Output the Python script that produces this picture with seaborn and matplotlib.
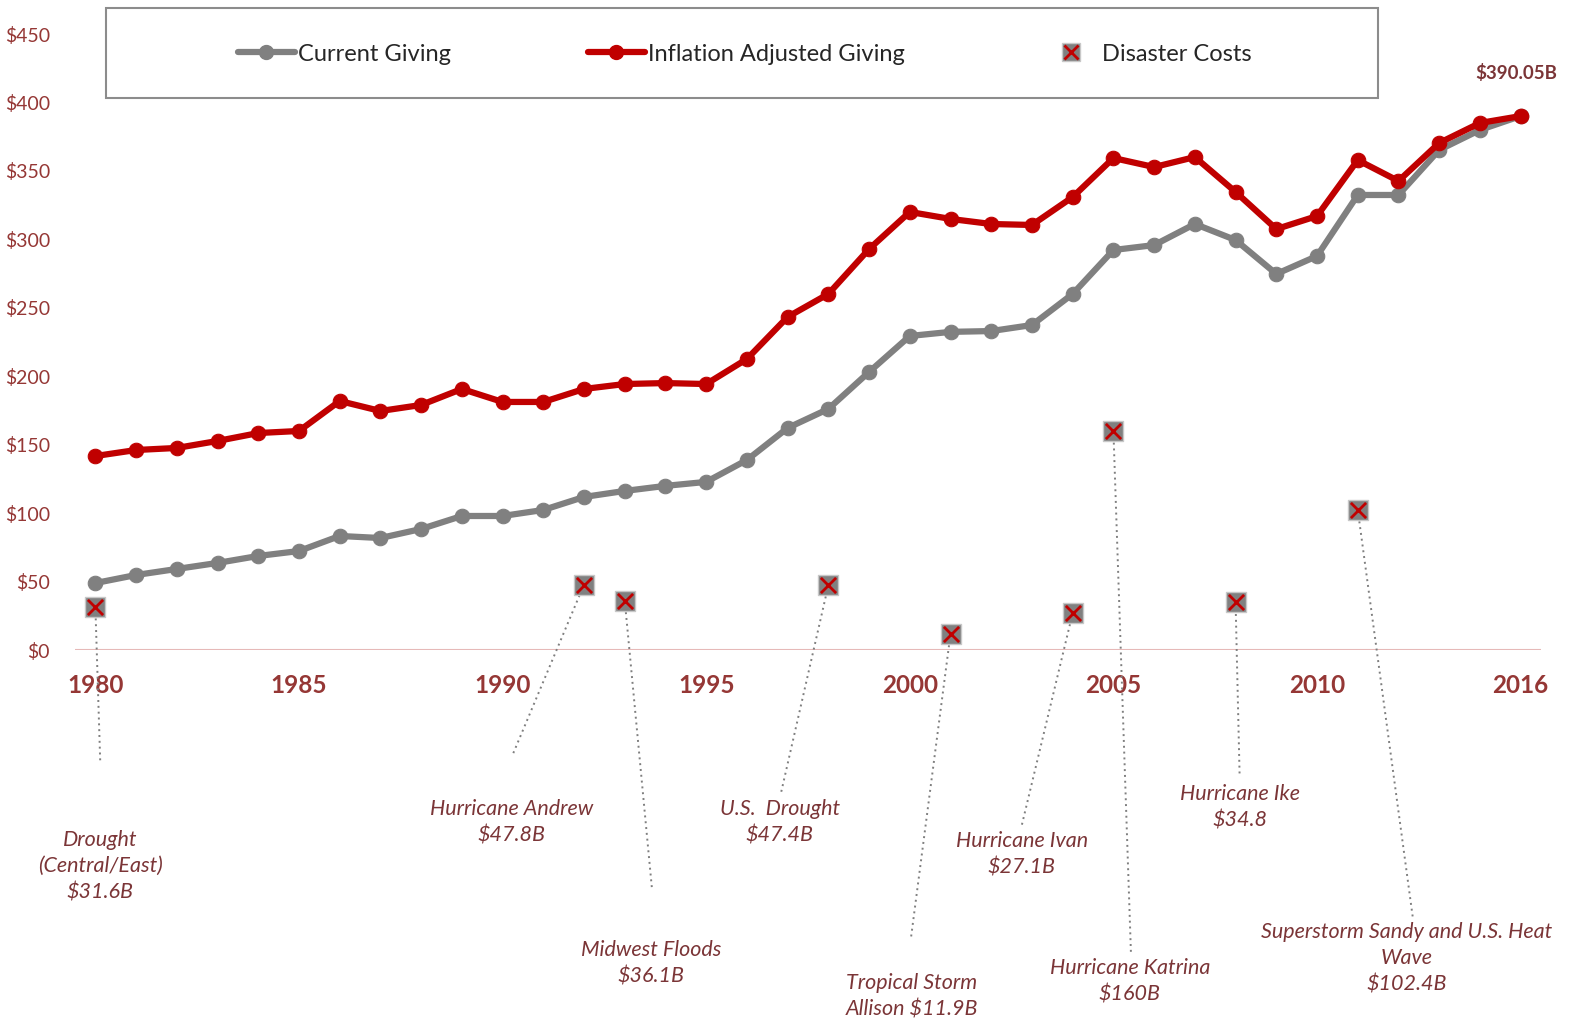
import numpy as np
import matplotlib
matplotlib.use("Agg")
import matplotlib.pyplot as plt
from matplotlib.lines import Line2D
from matplotlib.patches import Rectangle
import seaborn as sns

sns.set_style("white")
plt.rcParams['font.family'] = ['Lato', 'DejaVu Sans']

#%% DATA

years = np.arange(1980, 2016)
tick_labels = ['1980', '1985', '1990', '1995', '2000', '2005', '2010', '2016']

current_giving = [48.9, 54.8, 59.2, 63.6, 68.7, 72.3, 83.3, 81.8, 88.4, 97.9,
                  97.9, 102.3, 111.8, 116.2, 119.9, 122.8, 138.8, 162.2, 176.1, 203.1,
                  229.4, 232.4, 233.0, 237.4, 260.1, 292.2, 295.8, 311.2, 299.5, 274.7,
                  287.8, 332.4, 332.4, 365.3, 379.9, 390.05]

inflation_adjusted = [141.7, 146.1, 147.6, 152.7, 158.5, 160.0, 181.9, 174.6, 179.0, 190.7,
                      181.2, 181.2, 190.7, 194.3, 195.0, 194.3, 212.6, 243.3, 260.1, 292.9,
                      320.0, 314.9, 311.2, 310.5, 330.9, 359.4, 352.8, 360.1, 334.6, 307.5,
                      317.0, 357.9, 342.6, 370.4, 385.0, 390.05]

disaster_years = [1980, 1992, 1993, 1998, 2001, 2004, 2005, 2008, 2011]
disaster_costs = [31.6, 47.8, 36.1, 47.4, 11.9, 27.1, 160.0, 34.8, 102.4]
disaster_labels = ['Drought\n(Central/East)\n$31.6B',
                   'Hurricane Andrew\n$47.8B',
                   'Midwest Floods\n$36.1B',
                   'U.S.  Drought\n$47.4B',
                   'Tropical Storm\nAllison $11.9B',
                   'Hurricane Ivan\n$27.1B',
                   'Hurricane Katrina\n$160B',
                   'Hurricane Ike\n$34.8',
                   'Superstorm Sandy and U.S. Heat\nWave\n$102.4B']

# layout of the callouts below the axis: (leader end x, leader end y, text x, text y)
callouts = [(1980.12, -82, 1980.12, -158),
            (1990.24, -77, 1990.21, -126),
            (1993.67, -175, 1993.65, -229),
            (1996.84, -104, 1996.81, -126),
            (2000.03, -210, 2000.05, -253),
            (2002.75, -128, 2002.75, -149),
            (2005.43, -221, 2005.40, -242),
            (2008.10, -93, 2008.10, -115),
            (2012.35, -195, 2012.20, -225)]

GRAY = '#808080'
RED = '#C00000'
LABEL = '#953735'
NOTE = '#7B3537'

#%% PLOT

fig = plt.figure(figsize=(15.71, 10.22), dpi=100)
ax = fig.add_axes([75/1571, 1-650/1022, 1466/1571, 616/1022])

sns.lineplot(x=years, y=current_giving, ax=ax, color=GRAY, lw=4.5,
             marker='o', markersize=10.5, markeredgecolor=GRAY, zorder=3)
sns.lineplot(x=years, y=inflation_adjusted, ax=ax, color=RED, lw=4.5,
             marker='o', markersize=10.5, markeredgecolor=RED, zorder=4)

# leader lines and callout text
for yr, cost, lab, (lx, ly, tx, ty) in zip(disaster_years, disaster_costs,
                                           disaster_labels, callouts):
    ax.plot([yr, lx], [cost, ly], ls=(0, (1, 2)), color='#7F7F7F', lw=1.4,
            clip_on=False, zorder=2)
    ax.text(tx, ty, lab, ha='center', va='center', fontsize=15.5, style='italic',
            color=NOTE, linespacing=1.38, clip_on=False)

sns.scatterplot(x=disaster_years, y=disaster_costs, ax=ax, marker='s', s=210,
                color=GRAY, edgecolor='#C8C8C8', linewidth=1, zorder=5)
ax.scatter(disaster_years, disaster_costs, marker='x', s=120, color=RED,
           linewidths=2, zorder=6)

# end value label
ax.plot([2015.8, 2015.93], [409, 393], color='#E6A0A0', lw=1.2, zorder=2)
ax.text(2015.9, 421.5, '$390.05B', ha='right', va='center', fontsize=13.5,
        fontweight='bold', color='#7B3537')

ax.axhline(0, color='#E6B9B8', lw=1.5, zorder=1)
ax.set_xlim(1979.5, 2015.5)
ax.set_ylim(0, 450)
ax.set_yticks(np.arange(0, 451, 50))
ax.set_yticklabels(['$%d' % v for v in np.arange(0, 451, 50)])
ax.set_xticks(years[::5])
ax.set_xticklabels(tick_labels)
ax.tick_params(axis='y', length=0, pad=18, labelsize=14, labelcolor=LABEL)
ax.tick_params(axis='x', length=0, pad=17, labelsize=17.5, labelcolor=LABEL)
for t in ax.get_xticklabels():
    t.set_fontweight('bold')
sns.despine(ax=ax, left=True, bottom=True)
ax.set_xlabel('')
ax.set_ylabel('')
ax.grid(False)

# legend with a fixed box
fig.patches.append(Rectangle((106/1571, 1-98/1022), 1272/1571, 90/1022,
                             transform=fig.transFigure, fill=False,
                             edgecolor='#8C8C8C', lw=1.5))
handles = [Line2D([], [], color=GRAY, lw=4.5, marker='o', markersize=10),
           Line2D([], [], color=RED, lw=4.5, marker='o', markersize=10),
           (Line2D([], [], ls='', marker='s', markersize=13, color=GRAY,
                   markeredgecolor='#C8C8C8'),
            Line2D([], [], ls='', marker='x', markersize=10, color=RED,
                   markeredgewidth=2))]
fig.legend(handles, ['Current Giving', 'Inflation Adjusted Giving', 'Disaster Costs'],
           loc='center', bbox_to_anchor=(745/1571, 1-54/1022), ncol=3,
           frameon=False, fontsize=17, handlelength=2.4, handletextpad=0.15,
           columnspacing=5.8)

plt.savefig('out.png', dpi=100)
